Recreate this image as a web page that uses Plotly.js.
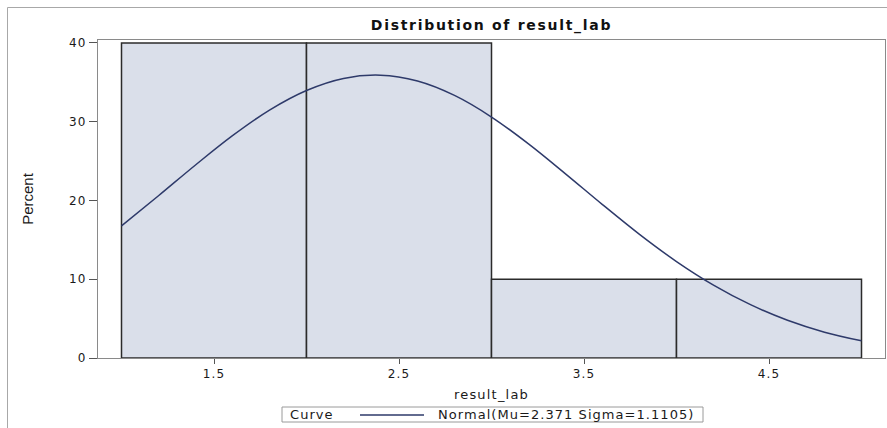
<!DOCTYPE html>
<html>
<head>
<meta charset="utf-8">
<script src="https://cdn.plot.ly/plotly-3.0.1.min.js"></script>
<style>
  html, body { margin: 0; padding: 0; background: #ffffff; }
  #chart { width: 887px; height: 428px; }
  svg text { letter-spacing: 1.2px; }
  text.gtitle { letter-spacing: 1.7px !important; }
  text.ytitle { letter-spacing: 0px !important; }
  text.annotation-text { letter-spacing: 1.05px !important; }
</style>
</head>
<body>
<div id="chart"></div>
<script>
// Histogram bins (midpoints) and percentages
const binMid = [1.5, 2.5, 3.5, 4.5];
const binPercent = [40, 40, 10, 10];

// Fitted normal curve (percent scale)
const curveX = [1.0, 1.2, 1.4, 1.6, 1.8, 2.0, 2.2, 2.4, 2.6, 2.8, 3.0,
                3.2, 3.4, 3.6, 3.8, 4.0, 4.2, 4.4, 4.6, 4.8, 5.0];
const curveY = [16.77, 20.60, 24.51, 28.23, 31.48, 33.97, 35.50, 35.91, 35.17, 33.34, 30.60,
                27.19, 23.39, 19.48, 15.70, 12.25, 9.26, 6.77, 4.79, 3.28, 2.18];

const xTickVals = [1.5, 2.5, 3.5, 4.5];
const xTickText = ['1.5', '2.5', '3.5', '4.5'];
const yTickVals = [0, 10, 20, 30, 40];
const yTickText = ['0', '10', '20', '30', '40'];

const curveName = 'Normal(Mu=2.371 Sigma=1.1105)';

const textFont = 'DejaVu Sans, Verdana, sans-serif';

const traces = [
  {
    type: 'bar',
    x: binMid,
    y: binPercent,
    width: 1,
    marker: { color: '#dadfea', line: { color: '#2b2b2b', width: 1.5 } },
    showlegend: false,
    hoverinfo: 'x+y'
  },
  {
    type: 'scatter',
    mode: 'lines',
    x: curveX,
    y: curveY,
    line: { color: '#2e3a6a', width: 1.5, shape: 'spline' },
    name: curveName,
    showlegend: false
  }
];

// pixel helpers for legend box placement (plot area: l=98, width=787, bottom=358, height=318)
const px = v => (v - 98) / 787;
const py = v => (358 - v) / 318;

const layout = {
  width: 887,
  height: 428,
  margin: { l: 98, r: 2, t: 40, b: 70 },
  paper_bgcolor: '#ffffff',
  plot_bgcolor: '#ffffff',
  font: { family: textFont, size: 12, color: '#1a1a1a' },
  title: {
    text: '<b>Distribution of result_lab</b>',
    font: { family: 'DejaVu Sans, Verdana, sans-serif', size: 14, color: '#111111' },
    x: 0.5, xref: 'paper', xanchor: 'center',
    y: 1 - 25 / 428, yref: 'container', yanchor: 'middle'
  },
  xaxis: {
    range: [0.873, 5.127],
    tickvals: xTickVals,
    ticktext: xTickText,
    ticks: 'outside',
    ticklen: 5,
    tickcolor: '#555555',
    showgrid: false,
    zeroline: false,
    showline: true,
    mirror: true,
    linecolor: '#8a8a8a',
    linewidth: 1,
    tickfont: { family: textFont, size: 12, color: '#1a1a1a' },
    title: { text: 'result_lab', font: { family: textFont, size: 13, color: '#1a1a1a' }, standoff: 9 }
  },
  yaxis: {
    range: [0, 40.38],
    tickvals: yTickVals,
    ticktext: yTickText,
    ticks: 'outside',
    ticklen: 8,
    tickcolor: '#555555',
    showgrid: false,
    zeroline: false,
    showline: true,
    mirror: true,
    linecolor: '#8a8a8a',
    linewidth: 1,
    tickfont: { family: textFont, size: 12, color: '#1a1a1a' },
    title: { text: 'Percent', font: { family: 'Liberation Sans Narrow, Liberation Sans, Arial, sans-serif', size: 15, color: '#1a1a1a' }, standoff: 31 }
  },
  shapes: [
    // outer frame of the picture
    { type: 'rect', xref: 'paper', yref: 'paper', x0: px(7.5), x1: px(900), y0: py(440), y1: py(7.5),
      line: { color: '#a8a8a8', width: 1 }, fillcolor: 'rgba(0,0,0,0)', layer: 'below' },
    // legend box
    { type: 'rect', xref: 'paper', yref: 'paper', x0: px(282), x1: px(703), y0: py(422), y1: py(407),
      line: { color: '#9a9a9a', width: 1 }, fillcolor: '#ffffff' },
    // legend line sample
    { type: 'line', xref: 'paper', yref: 'paper', x0: px(360), x1: px(424), y0: py(415), y1: py(415),
      line: { color: '#2e3a6a', width: 1.5 } }
  ],
  annotations: [
    { xref: 'paper', yref: 'paper', x: px(288), y: py(414.5), xanchor: 'left', yanchor: 'middle',
      text: 'Curve', showarrow: false, font: { family: textFont, size: 13, color: '#1a1a1a' } },
    { xref: 'paper', yref: 'paper', x: px(436), y: py(414.5), xanchor: 'left', yanchor: 'middle',
      text: curveName, showarrow: false, font: { family: textFont, size: 13, color: '#1a1a1a' } }
  ],
  showlegend: false
};

Plotly.newPlot('chart', traces, layout, { displayModeBar: false, staticPlot: true });
</script>
</body>
</html>
